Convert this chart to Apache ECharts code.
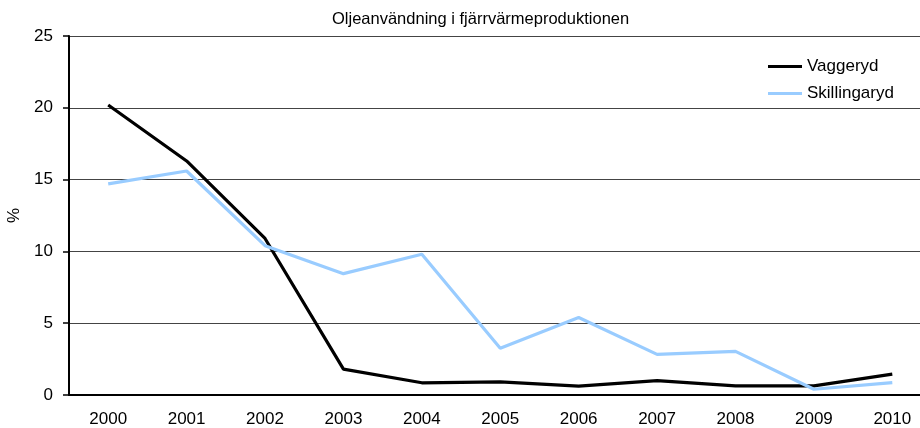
<!DOCTYPE html>
<html>
  <head>
    <meta charset="UTF-8">
    <title>Oljeanvändning i fjärrvärmeproduktionen</title>
    <script src="https://cdn.jsdelivr.net/npm/echarts@6/dist/echarts.min.js"></script>
  </head>
  <body style="margin:0">
    <div id="box" style="width:920px;height:428px"></div>
    <script>
        // årtal och andel olja (%)
        var years = ['2000', '2001', '2002', '2003', '2004', '2005', '2006', '2007', '2008', '2009', '2010'];
        var vaggeryd = [20.2, 16.3, 10.9, 1.8, 0.85, 0.92, 0.62, 1.0, 0.63, 0.63, 1.45];
        var skillingaryd = [14.7, 15.6, 10.4, 8.45, 9.8, 3.25, 5.4, 2.83, 3.04, 0.4, 0.86];
        var yTicks = [0, 5, 10, 15, 20, 25];

        var font = 'Liberation Sans, Arial, sans-serif';
        var myChart = echarts.init(document.getElementById('box'));
        myChart.setOption({
            animation: false,
            title: {
                text: 'Oljeanvändning i fjärrvärmeproduktionen',
                left: 332, top: 11, padding: 0,
                textStyle: {fontFamily: font, fontSize: 16.5, fontWeight: 'normal', color: '#000'}
            },
            legend: {
                data: ['Vaggeryd', 'Skillingaryd'],
                orient: 'vertical',
                left: 768, top: 58,
                padding: 0,
                icon: 'rect',
                itemWidth: 34, itemHeight: 3, itemGap: 10,
                textStyle: {fontFamily: font, fontSize: 17, color: '#000'}
            },
            // diagrammet är beskuret till höger, därför negativ marginal
            grid: {left: 69, top: 36, bottom: 33, right: -11.5, outerBoundsMode: 'none', containLabel: false},
            xAxis: {
                type: 'category',
                data: years,
                boundaryGap: true,
                axisLine: {lineStyle: {color: '#000', width: 2}},
                axisTick: {length: 6, lineStyle: {color: '#000', width: 1.5}},
                axisLabel: {fontFamily: font, fontSize: 17, color: '#000', margin: 16}
            },
            yAxis: {
                type: 'value',
                min: yTicks[0], max: yTicks[yTicks.length - 1], interval: 5,
                name: '%',
                nameLocation: 'middle',
                nameGap: 36,
                nameTextStyle: {fontFamily: font, fontSize: 17, color: '#000'},
                axisLine: {show: true, lineStyle: {color: '#000', width: 2}},
                axisTick: {show: true, length: 6, lineStyle: {color: '#000', width: 1.5}},
                axisLabel: {fontFamily: font, fontSize: 17, color: '#000', margin: 16},
                splitLine: {lineStyle: {color: '#444', width: 1}}
            },
            series: [{
                name: 'Vaggeryd',
                type: 'line',
                data: vaggeryd,
                symbol: 'none',
                lineStyle: {color: '#000', width: 3.2},
                itemStyle: {color: '#000'}
            }, {
                name: 'Skillingaryd',
                type: 'line',
                data: skillingaryd,
                symbol: 'none',
                lineStyle: {color: '#99ccff', width: 3.2},
                itemStyle: {color: '#99ccff'}
            }]
        });
    </script>
  </body>
</html>
